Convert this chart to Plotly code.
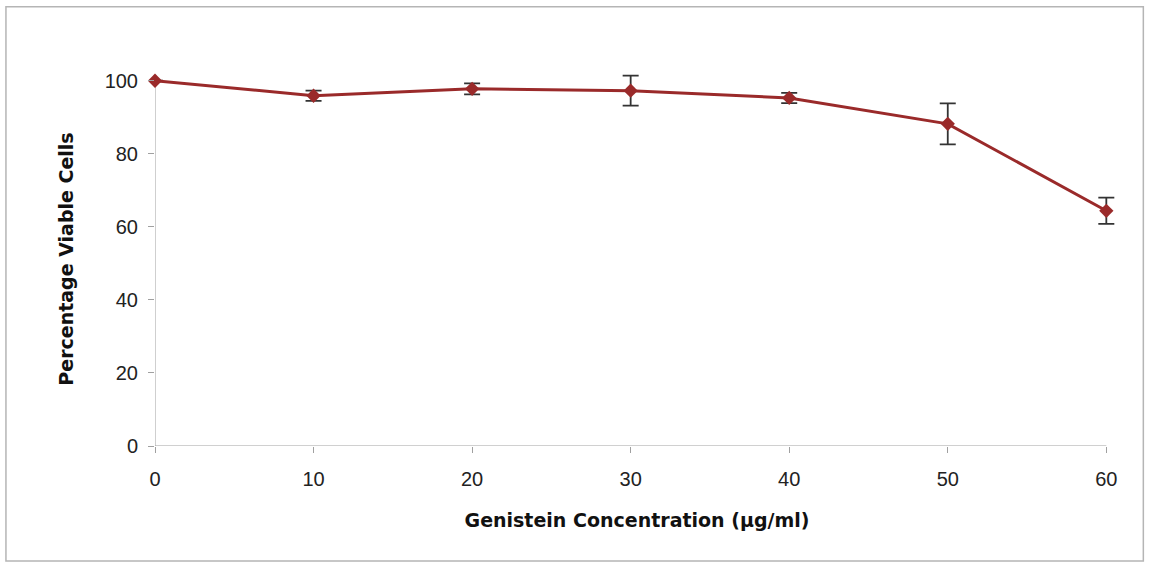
import plotly.graph_objects as go

# Genistein dose-response data (mean ± error)
concentration = [0, 10, 20, 30, 40, 50, 60]
viable_pct = [100.0, 95.9, 97.8, 97.3, 95.3, 88.2, 64.4]
error = [0.0, 1.4, 1.5, 4.1, 1.4, 5.6, 3.6]

x_ticks = [0, 10, 20, 30, 40, 50, 60]
y_ticks = [0, 20, 40, 60, 80, 100]

X_MAX, Y_MAX = 60, 100          # visible axis extent
X_PAD, Y_PAD = 0.8, 2.4         # headroom so caps and markers are not clipped

W, H = 1149, 563
# pixel positions of the axis extent
X0_PX, X1_PX = 155, 1106
Y0_PX, Y1_PX = 446, 81
sx = (X1_PX - X0_PX) / X_MAX
sy = (Y0_PX - Y1_PX) / Y_MAX
ML = X0_PX
MR = W - (X1_PX + X_PAD * sx)
MB = H - Y0_PX
MT = Y1_PX - Y_PAD * sy
PW, PH = W - ML - MR, H - MT - MB

def px_to_paper_x(px):
    return (px - ML) / PW

def px_to_paper_y(py):
    return (H - MB - py) / PH

fig = go.Figure()
fig.add_trace(go.Scatter(
    x=concentration,
    y=viable_pct,
    mode="lines+markers",
    line=dict(color="#9a2a2a", width=3),
    marker=dict(symbol="diamond", size=11, color="#9a2a2a"),
    error_y=dict(type="data", array=error, visible=True,
                 color="#333333", thickness=1.8, width=8),
    cliponaxis=False,
    showlegend=False,
))

axis_font = dict(family="Liberation Sans, Arial, sans-serif", size=20, color="#222222")
title_font = dict(family="DejaVu Sans, sans-serif", size=19, color="#111111")

fig.update_xaxes(
    range=[0, X_MAX + X_PAD],
    tickvals=x_ticks,
    ticks="outside", ticklen=6, tickcolor="#a0a0a0",
    ticklabelstandoff=9,
    showline=False, showgrid=False, zeroline=False,
    tickfont=axis_font,
    title=dict(text="<b>Genistein Concentration (μg/ml)</b>", font=title_font, standoff=24),
)
fig.update_yaxes(
    range=[0, Y_MAX + Y_PAD],
    tickvals=y_ticks,
    ticks="outside", ticklen=6, tickcolor="#a0a0a0",
    ticklabelstandoff=6,
    showline=False, showgrid=False, zeroline=False,
    tickfont=axis_font,
    title=dict(text="<b>Percentage Viable Cells</b>", font=title_font, standoff=25),
)

# Axis lines spanning only the labelled extent
fig.add_shape(type="line", xref="x", yref="y", x0=0, x1=X_MAX, y0=0, y1=0,
              line=dict(color="#a0a0a0", width=1), layer="below")
fig.add_shape(type="line", xref="x", yref="y", x0=0, x1=0, y0=0, y1=Y_MAX,
              line=dict(color="#a0a0a0", width=1), layer="below")

# Outer chart frame
fig.add_shape(
    type="rect", xref="paper", yref="paper",
    x0=px_to_paper_x(6), x1=px_to_paper_x(1143),
    y0=px_to_paper_y(561), y1=px_to_paper_y(7),
    line=dict(color="#b5b5b5", width=1.5),
)

fig.update_layout(
    width=W, height=H,
    margin=dict(l=ML, r=MR, t=MT, b=MB),
    paper_bgcolor="white",
    plot_bgcolor="white",
)

fig.write_html("out.html")
